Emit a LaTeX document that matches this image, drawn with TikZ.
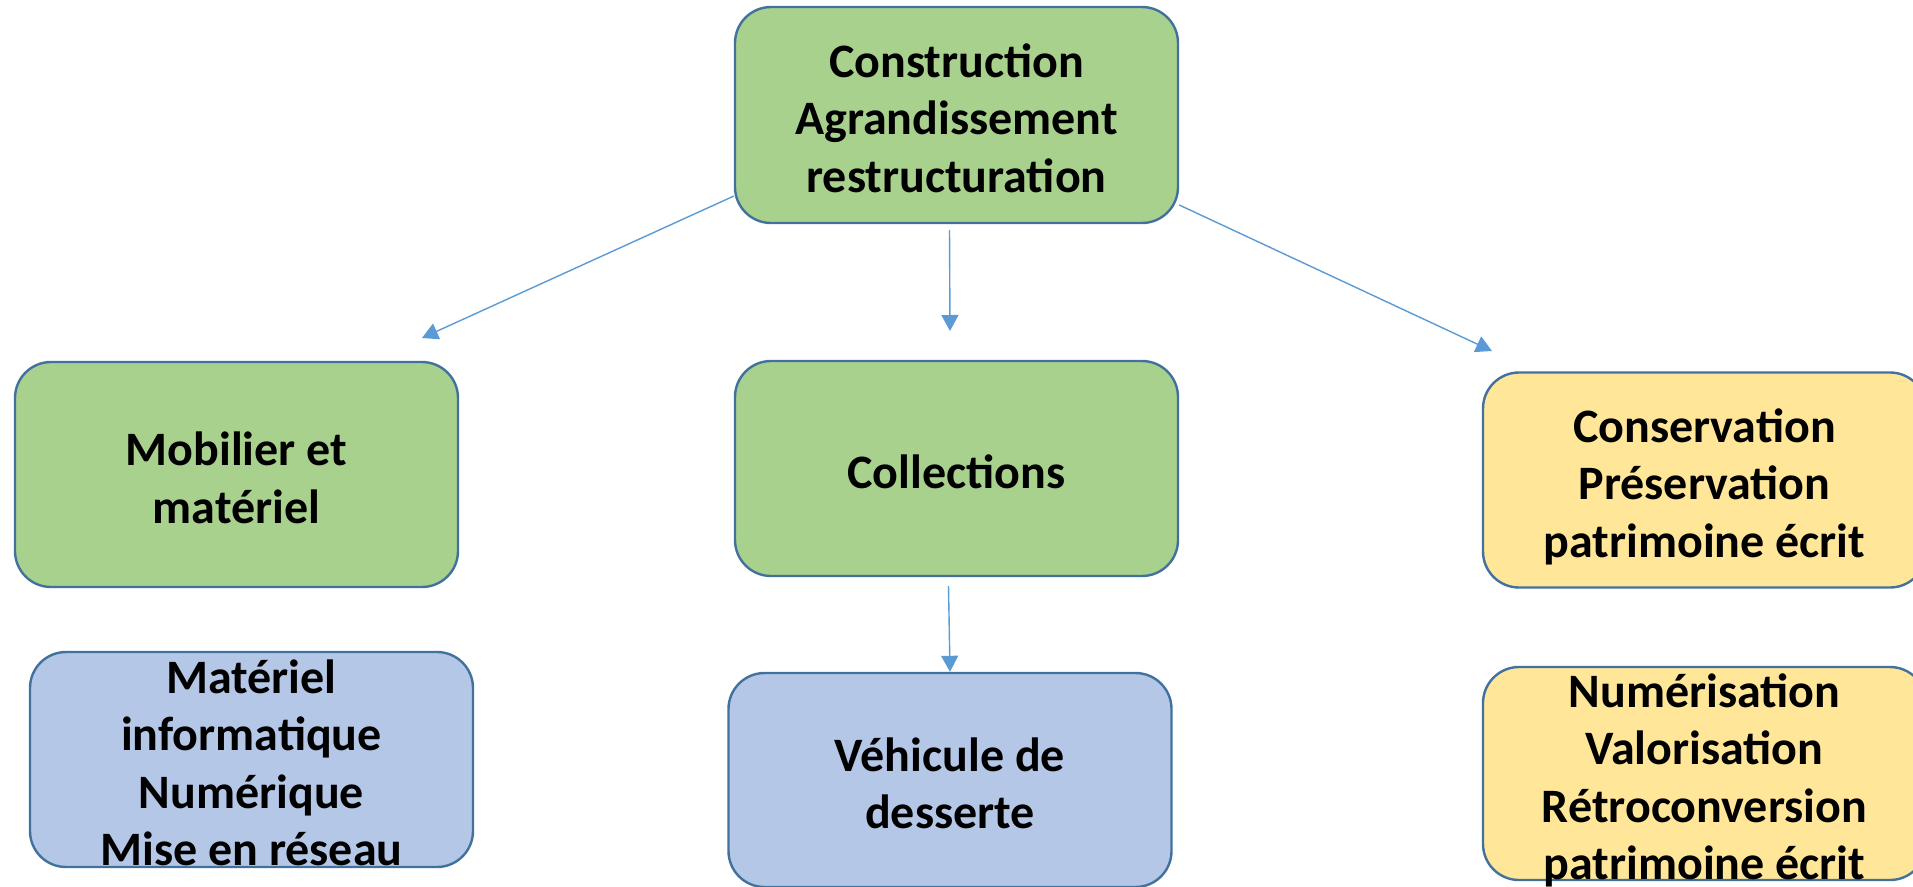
\documentclass[tikz,border=0pt]{standalone}
\usepackage{fontspec}
\setmainfont{Carlito}
\usetikzlibrary{arrows.meta}
\definecolor{gfill}{HTML}{A9D18E}
\definecolor{bfill}{HTML}{B4C7E7}
\definecolor{yfill}{HTML}{FFE699}
\definecolor{edgec}{HTML}{41719C}
\definecolor{arrowc}{HTML}{5B9BD5}
\newcommand\ls{\rule[-9pt]{0pt}{57.5pt}}
\tikzset{
  card/.style={draw=edgec, line width=2.4pt, rounded corners=36pt, minimum width=443pt, inner sep=0pt},
  lbl/.style={font=\bfseries\fontsize{48}{57.5}\selectfont, align=center, inner sep=0pt, text=black},
  arr/.style={draw=arrowc, line width=1.4pt, -{Triangle[length=16pt,width=17pt]}}
}
\begin{document}
\begin{tikzpicture}[x=1pt,y=-1pt]
\useasboundingbox (0,0) rectangle (1913,886);
% boxes
\node[card, fill=gfill, minimum height=216pt] (top) at (956.5,115) {};
\node[card, fill=gfill, minimum height=225pt] (mob) at (236.5,474.5) {};
\node[card, fill=gfill, minimum height=215pt] (coll) at (956.5,468.5) {};
\node[card, fill=yfill, minimum height=215pt] (cons) at (1704.5,480) {};
\node[card, fill=bfill, minimum height=215pt] (mat) at (251.5,759.5) {};
\node[card, fill=bfill, minimum height=214pt] (veh) at (950,780) {};
\node[card, fill=yfill, minimum height=213pt] (num) at (1704.5,773.5) {};
% texts
\node[lbl] (topt) at (top) {\ls Construction\\\ls Agrandissement\\\ls restructuration};
\node[lbl] (mobt) at (mob) {\ls Mobilier et\\\ls matériel};
\node[lbl] (collt) at (coll) {\ls Collections};
\node[lbl] (const) at (cons) {\ls Conservation\\\ls Préservation\\\ls patrimoine écrit};
\node[lbl] (matt) at (mat) {\ls Matériel\\\ls informatique\\\ls Numérique\\\ls Mise en réseau};
\node[lbl] (veht) at (veh) {\ls Véhicule de\\\ls desserte};
\node[lbl] (numt) at (num) {\ls Numérisation\\\ls Valorisation\\\ls Rétroconversion\\\ls patrimoine écrit};
% arrows
\coordinate (e1) at (422,338);
\coordinate (e2) at (950,331);
\coordinate (e3) at (1492,351);
\draw[arr] (top.200) -- (e1);
\draw[arr] ([xshift=-7pt,yshift=-6pt]top.south) -- (e2);
\draw[arr] (top.338) -- (e3);
\draw[arr] ([xshift=-8pt,yshift=-9pt]coll.south) -- (veh.north);
\end{tikzpicture}
\end{document}
